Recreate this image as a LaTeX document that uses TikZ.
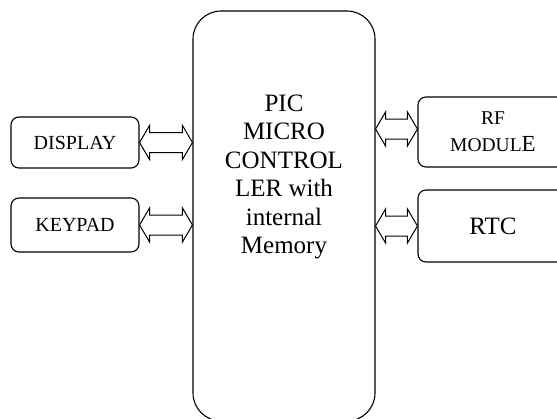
\documentclass[tikz,border=0pt]{standalone}
\usepackage{fontspec}
\setmainfont{Liberation Serif}
\usetikzlibrary{positioning,calc}
\tikzstyle{mainblock} = [rectangle, rounded corners=28pt, draw=black, line width=1.1pt, minimum width=182pt, minimum height=410pt, inner sep=0pt]
\tikzstyle{element} = [rectangle, rounded corners=8pt, draw=black, line width=1.1pt, text centered, align=center, inner sep=0pt]
\tikzstyle{blockarrow} = [draw=black, line width=1pt, fill=white, line join=miter]
% hollow double arrow between two points on one level
\newcommand{\dblarrow}[2]{%
  \draw[blockarrow] let \p1=(#1), \p2=(#2) in
    (\x1,\y1) -- (\x1+10pt,\y1+17pt) -- (\x1+10pt,\y1+10pt) -- (\x2-10pt,\y1+10pt) -- (\x2-10pt,\y1+17pt)
    -- (\x2,\y1) -- (\x2-10pt,\y1-17pt) -- (\x2-10pt,\y1-10pt) -- (\x1+10pt,\y1-10pt) -- (\x1+10pt,\y1-17pt) -- cycle;}
\begin{document}
\begin{tikzpicture}[x=1pt,y=-1pt]
        \useasboundingbox (0,0) rectangle (557,418);
        \clip (0,0) rectangle (557,418);
        % Micro controller ------------------------------------------------------------------------
        \node[mainblock](mcu) at (284,216){};
        \node[align=center, font=\fontsize{25}{28.5}\selectfont](mcu_text) at (284,177){PIC\\MICRO\\CONTROL\\LER with\\internal\\Memory};
        % Left side -------------------------------------------------------------------------------
        \node[element, minimum width=128pt, minimum height=51pt, font=\fontsize{20}{24}\selectfont](display) at (75,142.5){DISPLAY};
        \node[element, minimum width=128pt, minimum height=54pt, font=\fontsize{20}{24}\selectfont](keypad) at (75,225){KEYPAD};
        % Right side ------------------------------------------------------------------------------
        \node[element, minimum width=150pt, minimum height=70pt, font=\fontsize{19.5}{27}\selectfont](rf) at (493,132){RF\\MODUL{\fontsize{23}{27}\selectfont E}};
        \node[element, minimum width=150pt, minimum height=72pt, font=\fontsize{25}{27}\selectfont](rtc) at (493,226){RTC};
        % Arrows ----------------------------------------------------------------------------------
        \coordinate (rf_in) at ([yshift=3pt]rf.west);
        \dblarrow{display.east}{display.east -| mcu.west}
        \dblarrow{keypad.east}{keypad.east -| mcu.west}
        \dblarrow{rf_in -| mcu.east}{rf_in}
        \dblarrow{rtc.west -| mcu.east}{rtc.west}
    \end{tikzpicture}
\end{document}
